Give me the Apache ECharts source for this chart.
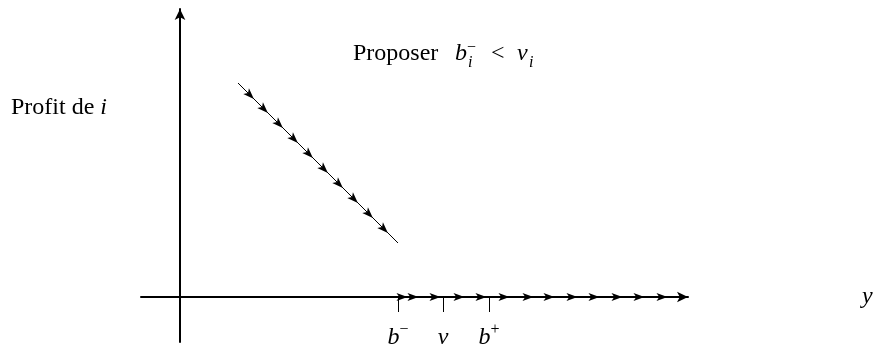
<!DOCTYPE html>
<html>
<head>
<meta charset="utf-8">
<script src="https://cdn.jsdelivr.net/npm/echarts@6/dist/echarts.min.js"></script>
<style>
  html, body { margin: 0; padding: 0; background: #fff; }
  #chart { width: 874px; height: 351px; }
</style>
</head>
<body>
<div id="chart"></div>
<script>
// bid axis (y) ticks: b-, v, b+
const tickValues = [21.8, 26.3, 30.9];
const tickNames = ["b-", "v", "b+"];

// profit segment for bids below b-
const slopeLine = [[5.8, 21.4], [21.8, 5.4]];
const slopeArrows = [
  [7.0, 20.2], [8.4, 18.8], [9.9, 17.3], [11.4, 15.8], [12.9, 14.3],
  [14.4, 12.8], [15.9, 11.3], [17.4, 9.8], [18.9, 8.3], [20.4, 6.8]
];
// arrows on the zero-profit part of the axis
const flatArrowX = [22.2, 23.3, 25.5, 27.9, 30.1, 32.4, 34.8, 36.9, 39.2, 41.4, 43.7, 45.9, 48.2];

const FONT = "Liberation Serif";
const FS = 24;
const SS = 16;
const arrowPath = "path://M0,0 L10,4 L0,8 L2.5,4 Z";

const chart = echarts.init(document.getElementById("chart"));

// title "Proposer b_i^- < v_i" as pieces: [text, italic, size, x, y]
const titleParts = [
  ["Proposer", false, FS, 0, 0],
  ["b", true, FS, 102, 0],
  ["\u2212", false, SS, 114, -2],
  ["i", true, SS, 115, 13],
  ["<", false, FS, 138, 0],
  ["v", true, FS, 164, 0],
  ["i", true, SS, 176, 13]
].map(function (p) {
  return {
    type: "text",
    x: p[3],
    y: p[4],
    style: {
      text: p[0],
      fontFamily: FONT,
      fontSize: p[2],
      fontStyle: p[1] ? "italic" : "normal",
      fill: "#000",
      verticalAlign: "top"
    }
  };
});

function tickLabel(n) {
  if (n === "b-") return "{b|b}{sup|\u2212}";
  if (n === "b+") return "{b|b}{sup|+}";
  return "{b|v}";
}

const option = {
  animation: false,
  backgroundColor: "#fff",
  grid: { left: 141, right: 186, top: 9, bottom: 9, containLabel: false, outerBoundsMode: "none" },
  xAxis: {
    type: "value",
    min: -3.9,
    max: 50.8,
    name: "y",
    nameLocation: "end",
    nameGap: 174,
    nameTextStyle: { fontFamily: FONT, fontStyle: "italic", fontSize: FS, color: "#000" },
    axisLine: {
      onZero: true,
      lineStyle: { color: "#000", width: 2 },
      symbol: ["none", "arrow"],
      symbolSize: [8, 11]
    },
    axisTick: {
      show: true,
      customValues: tickValues,
      length: 15,
      lineStyle: { color: "#000", width: 1 }
    },
    axisLabel: { show: false },
    splitLine: { show: false }
  },
  yAxis: {
    type: "value",
    min: -4.5,
    max: 28.8,
    axisLine: {
      onZero: true,
      lineStyle: { color: "#000", width: 2 },
      symbol: ["none", "arrow"],
      symbolSize: [8, 11]
    },
    axisTick: { show: false },
    axisLabel: { show: false },
    splitLine: { show: false }
  },
  graphic: [
    {
      type: "text",
      x: 11,
      y: 96,
      style: {
        text: "Profit de {i|i}",
        fontFamily: FONT,
        fontSize: FS,
        fill: "#000",
        verticalAlign: "top",
        rich: { i: { fontFamily: FONT, fontStyle: "italic", fontSize: FS } }
      }
    },
    {
      type: "group",
      x: 353,
      y: 42,
      children: titleParts
    }
  ],
  series: [
    {
      type: "line",
      data: slopeLine,
      symbol: "none",
      lineStyle: { color: "#000", width: 1 },
      silent: true
    },
    {
      type: "scatter",
      data: slopeArrows,
      symbol: arrowPath,
      symbolSize: [11, 8],
      symbolRotate: -45,
      itemStyle: { color: "#000", opacity: 1 }
    },
    {
      type: "scatter",
      data: flatArrowX.map(function (x) { return [x, 0]; }),
      symbol: arrowPath,
      symbolSize: [11, 8],
      itemStyle: { color: "#000", opacity: 1 }
    },
    {
      // tick labels b-, v, b+ under the axis
      type: "scatter",
      data: tickValues.map(function (x) { return [x, 0]; }),
      symbolSize: 0,
      silent: true,
      itemStyle: { opacity: 1 },
      label: {
        show: true,
        position: "bottom",
        distance: 25,
        opacity: 1,
        formatter: function (p) {
          return tickLabel(tickNames[p.dataIndex]);
        },
        rich: {
          b: { fontFamily: FONT, fontStyle: "italic", fontSize: FS, color: "#000", lineHeight: 28, verticalAlign: "bottom" },
          sup: { fontFamily: FONT, fontSize: SS, color: "#000", lineHeight: 16, verticalAlign: "top" }
        }
      }
    }
  ]
};
chart.setOption(option);
</script>
</body>
</html>
